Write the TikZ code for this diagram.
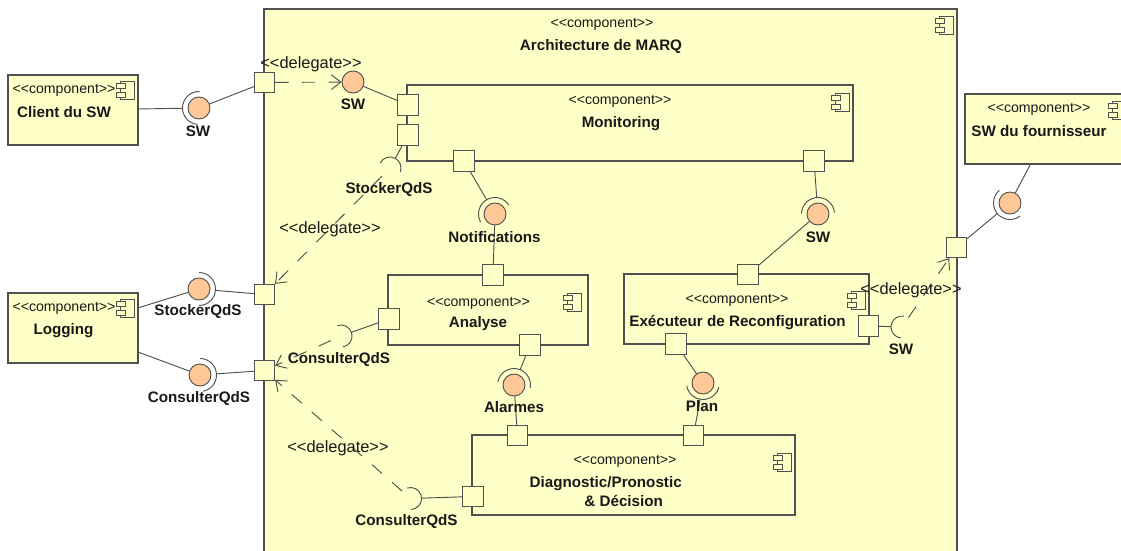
\documentclass[tikz,border=0pt]{standalone}
\usepackage{fontspec}
\setmainfont{Liberation Sans}
\usetikzlibrary{arrows.meta}
\definecolor{compyellow}{HTML}{FFFFC8}
\definecolor{ballorange}{HTML}{FFC896}
\definecolor{umlgray}{HTML}{505050}
\newcommand{\comptext}{<{}<component>{}>}
\newcommand{\delegtxt}{<{}<delegate>{}>}
\tikzset{
  compbox/.style={draw=umlgray,fill=compyellow,line width=0.8pt,inner sep=0pt},
  portbox/.style={draw=umlgray,fill=compyellow,line width=0.8pt,inner sep=0pt,minimum size=15.2pt},
  ball/.style={circle,draw=umlgray,fill=ballorange,line width=0.7pt,inner sep=0pt,minimum size=16.5pt},
  ring/.style={circle,inner sep=0pt,minimum size=24.8pt},
  sock/.style={circle,inner sep=0pt,minimum size=16.5pt},
  wire/.style={draw=umlgray,line width=0.7pt},
  deleg/.style={wire,dash pattern=on 10pt off 10pt,-{Straight Barb[length=7pt,width=11pt]}},
  stereo/.style={inner sep=0pt,yshift=-1pt,text=black!90,font=\fontsize{10.6}{12}\selectfont},
  delegtext/.style={inner sep=0pt,yshift=-1pt,text=black!90,font=\fontsize{12.3}{14}\selectfont},
  boldtext/.style={inner sep=0pt,yshift=-1pt,text=black!90,font=\fontsize{11.4}{13}\selectfont\bfseries},
  compicon/.pic={
    \draw[wire,fill=compyellow] (-4.5,-9) rectangle (9,9);
    \draw[wire,fill=compyellow] (-9,1.5) rectangle (0,6.5);
    \draw[wire,fill=compyellow] (-9,-7) rectangle (0,-2);
  }
}
\begin{document}
\begin{tikzpicture}[x=0.75pt,y=0.75pt]

    % --- Page ---
    \useasboundingbox (0,0) rectangle (1121,-550);
    \clip (0,0) rectangle (1121,-550);

    % --- Components ---
    % The outer box and the supplier box run off the page
    \node[compbox,minimum width=519.75pt,minimum height=450pt] (marq) at (610.5,-309) {};
    \node[compbox,minimum width=97.5pt,minimum height=52.5pt] (client) at (73,-110) {};
    \node[compbox,minimum width=97.5pt,minimum height=52.5pt] (logging) at (73,-328) {};
    \node[compbox,minimum width=126pt,minimum height=52.5pt] (fournisseur) at (1049,-129) {};
    \node[compbox,minimum width=334.5pt,minimum height=57pt] (monitoring) at (630,-123) {};
    \node[compbox,minimum width=150pt,minimum height=52.5pt] (analyse) at (488,-310) {};
    \node[compbox,minimum width=183.75pt,minimum height=52.5pt] (executeur) at (746.5,-309) {};
    \node[compbox,minimum width=242.25pt,minimum height=60pt] (diagnostic) at (633.5,-475) {};

    % Small component signs in the corners
    \pic at (944,-25) {compicon};
    \pic at (125,-90) {compicon};
    \pic at (125,-308) {compicon};
    \pic at (1117,-110) {compicon};
    \pic at (840,-102) {compicon};
    \pic at (572,-302) {compicon};
    \pic at (856,-300) {compicon};
    \pic at (782,-462) {compicon};

    % --- Ports ---
    \node[portbox] (pSwIn) at (264.5,-82.5) {};
    \node[portbox] (pStockerOut) at (264.5,-294.5) {};
    \node[portbox] (pConsulterOut) at (264.5,-370.5) {};
    \node[portbox] (pSwOut) at (956.5,-247.5) {};
    \node[portbox] (pMonSw) at (408,-105) {};
    \node[portbox] (pMonStocker) at (408,-135) {};
    \node[portbox] (pMonNotif) at (464,-161) {};
    \node[portbox] (pMonExec) at (814,-161) {};
    \node[portbox] (pAnaNotif) at (493,-275) {};
    \node[portbox] (pAnaConsulter) at (389,-319) {};
    \node[portbox] (pAnaAlarm) at (530,-345) {};
    \node[portbox] (pExeMon) at (748,-274.5) {};
    \node[portbox] (pExeSw) at (868.5,-326) {};
    \node[portbox] (pExePlan) at (676,-344) {};
    \node[portbox] (pDiaAlarm) at (517.5,-435.5) {};
    \node[portbox] (pDiaPlan) at (693.5,-435.5) {};
    \node[portbox] (pDiaConsulter) at (473,-496.5) {};

    % --- Balls, with the ring of the required side ---
    \node[ball] (bClient) at (199,-108) {};
    \node[ring] (rClient) at (199,-108) {};
    \draw[wire] (rClient) ++(88:16.5) arc (88:265:16.5);

    \node[ball] (bStocker) at (199,-289) {};
    \node[ring] (rStocker) at (199,-289) {};
    \draw[wire] (rStocker) ++(90:16.5) arc (90:-90:16.5);

    \node[ball] (bConsulter) at (200,-375) {};
    \node[ring] (rConsulter) at (200,-375) {};
    \draw[wire] (rConsulter) ++(90:16.5) arc (90:-80:16.5);

    \node[ball] (bNotif) at (495,-214) {};
    \node[ring] (rNotif) at (495,-214) {};
    \draw[wire] (rNotif) ++(209:16.5) arc (209:33:16.5);

    \node[ball] (bMonExec) at (818,-214) {};
    \node[ring] (rMonExec) at (818,-214) {};
    \draw[wire] (rMonExec) ++(178:16.5) arc (178:5:16.5);

    \node[ball] (bAlarm) at (514,-385) {};
    \node[ring] (rAlarm) at (514,-385) {};
    \draw[wire] (rAlarm) ++(170:16.5) arc (170:-10:16.5);

    \node[ball] (bPlan) at (703,-383) {};
    \node[ring] (rPlan) at (703,-383) {};
    \draw[wire] (rPlan) ++(190:16.5) arc (190:345:16.5);

    \node[ball] (bFourn) at (1010,-203) {};
    \node[ring] (rFourn) at (1010,-203) {};
    \draw[wire] (rFourn) ++(130:16.5) arc (130:308:16.5);

    % Ball on the inside of the top delegate has no ring
    \node[ball] (bSwIn) at (353,-82) {};

    % --- Open sockets ---
    \node[sock] (sStocker) at (390,-168) {};
    \draw[wire] (sStocker) ++(153:11) arc (153:-22:11);

    \node[sock] (sAnalyse) at (341,-336) {};
    \draw[wire] (sAnalyse) ++(109:11) arc (109:-80:11);

    \node[sock] (sDiag) at (410.5,-498.5) {};
    \draw[wire] (sDiag) ++(108:11) arc (108:-87:11);

    \node[sock] (sExec) at (902,-327) {};
    \draw[wire] (sExec) ++(80:11) arc (80:265:11);

    % --- Connectors ---
    \draw[wire] (client) -- (rClient);
    \draw[wire] (bClient) -- (pSwIn);
    \draw[wire] (bSwIn) -- (pMonSw);
    \draw[wire] (pMonStocker) -- (sStocker);
    \draw[wire] (logging) -- (bStocker);
    \draw[wire] (rStocker) -- (pStockerOut);
    \draw[wire] (logging) -- (bConsulter);
    \draw[wire] (rConsulter) -- (pConsulterOut);
    \draw[wire] (pMonNotif) -- (rNotif);
    \draw[wire] (bNotif) -- (pAnaNotif);
    \draw[wire] (pMonExec) -- (rMonExec);
    \draw[wire] (bMonExec) -- (pExeMon);
    \draw[wire] (pAnaConsulter) -- (sAnalyse);
    \draw[wire] (pAnaAlarm) -- (rAlarm);
    \draw[wire] (bAlarm) -- (pDiaAlarm);
    \draw[wire] (pExePlan) -- (bPlan);
    \draw[wire] (rPlan) -- (pDiaPlan);
    \draw[wire] (pDiaConsulter) -- (sDiag);
    \draw[wire] (pExeSw) -- (sExec);
    \draw[wire] (fournisseur) -- (bFourn);
    \draw[wire] (rFourn) -- (pSwOut);

    % Dashed delegates
    \draw[deleg] (pSwIn) -- (bSwIn);
    \draw[deleg] (sStocker) -- (pStockerOut);
    \draw[deleg] (sAnalyse) -- (pConsulterOut);
    \draw[deleg] (sDiag) -- (pConsulterOut);
    \draw[deleg] (sExec) -- (pSwOut);

    % --- Labels ---
    \node[stereo] (tMarq) at (602,-23) {\comptext};
    \node[boldtext] (nMarq) at (601,-45) {Architecture de MARQ};
    \node[stereo] (tClient) at (64,-89) {\comptext};
    \node[boldtext] (nClient) at (64,-111) {Client du SW};
    \node[stereo] (tLogging) at (64,-307) {\comptext};
    \node[boldtext] (nLogging) at (63.5,-329) {Logging};
    \node[stereo] (tFourn) at (1039,-108) {\comptext};
    \node[boldtext] (nFourn) at (1039,-130) {SW du fournisseur};
    \node[stereo] (tMon) at (620,-100) {\comptext};
    \node[boldtext] (nMon) at (621,-122) {Monitoring};
    \node[stereo] (tAna) at (478.5,-302) {\comptext};
    \node[boldtext] (nAna) at (478,-322) {Analyse};
    \node[stereo] (tExe) at (737,-299) {\comptext};
    \node[boldtext] (nExe) at (737.5,-321) {Exécuteur de Reconfiguration};
    \node[stereo] (tDia) at (625,-460) {\comptext};
    \node[boldtext] (nDia) at (605.7,-482) {Diagnostic/Pronostic};
    \node[boldtext] (nDiaTwo) at (623.7,-500) {\& Décision};

    \node[boldtext] (lSwClient) at (198,-130) {SW};
    \node[boldtext] (lSwIn) at (353,-103) {SW};
    \node[boldtext] (lStockerIn) at (389,-188) {StockerQdS};
    \node[boldtext] (lStockerOut) at (198,-310) {StockerQdS};
    \node[boldtext] (lConsulterOut) at (199,-397) {ConsulterQdS};
    \node[boldtext] (lConsulterAna) at (339,-358) {ConsulterQdS};
    \node[boldtext] (lConsulterDia) at (406.5,-520) {ConsulterQdS};
    \node[boldtext] (lNotif) at (494.5,-236) {Notifications};
    \node[boldtext] (lSwMon) at (818,-236) {SW};
    \node[boldtext] (lAlarm) at (514,-406) {Alarmes};
    \node[boldtext] (lPlan) at (702,-405) {Plan};
    \node[boldtext] (lSwExe) at (901,-348) {SW};

    \node[delegtext] (dTop) at (311,-63) {\delegtxt};
    \node[delegtext] (dStocker) at (330,-228) {\delegtxt};
    \node[delegtext] (dConsulter) at (338,-447) {\delegtxt};
    \node[delegtext] (dSw) at (911,-289) {\delegtxt};

\end{tikzpicture}
\end{document}
